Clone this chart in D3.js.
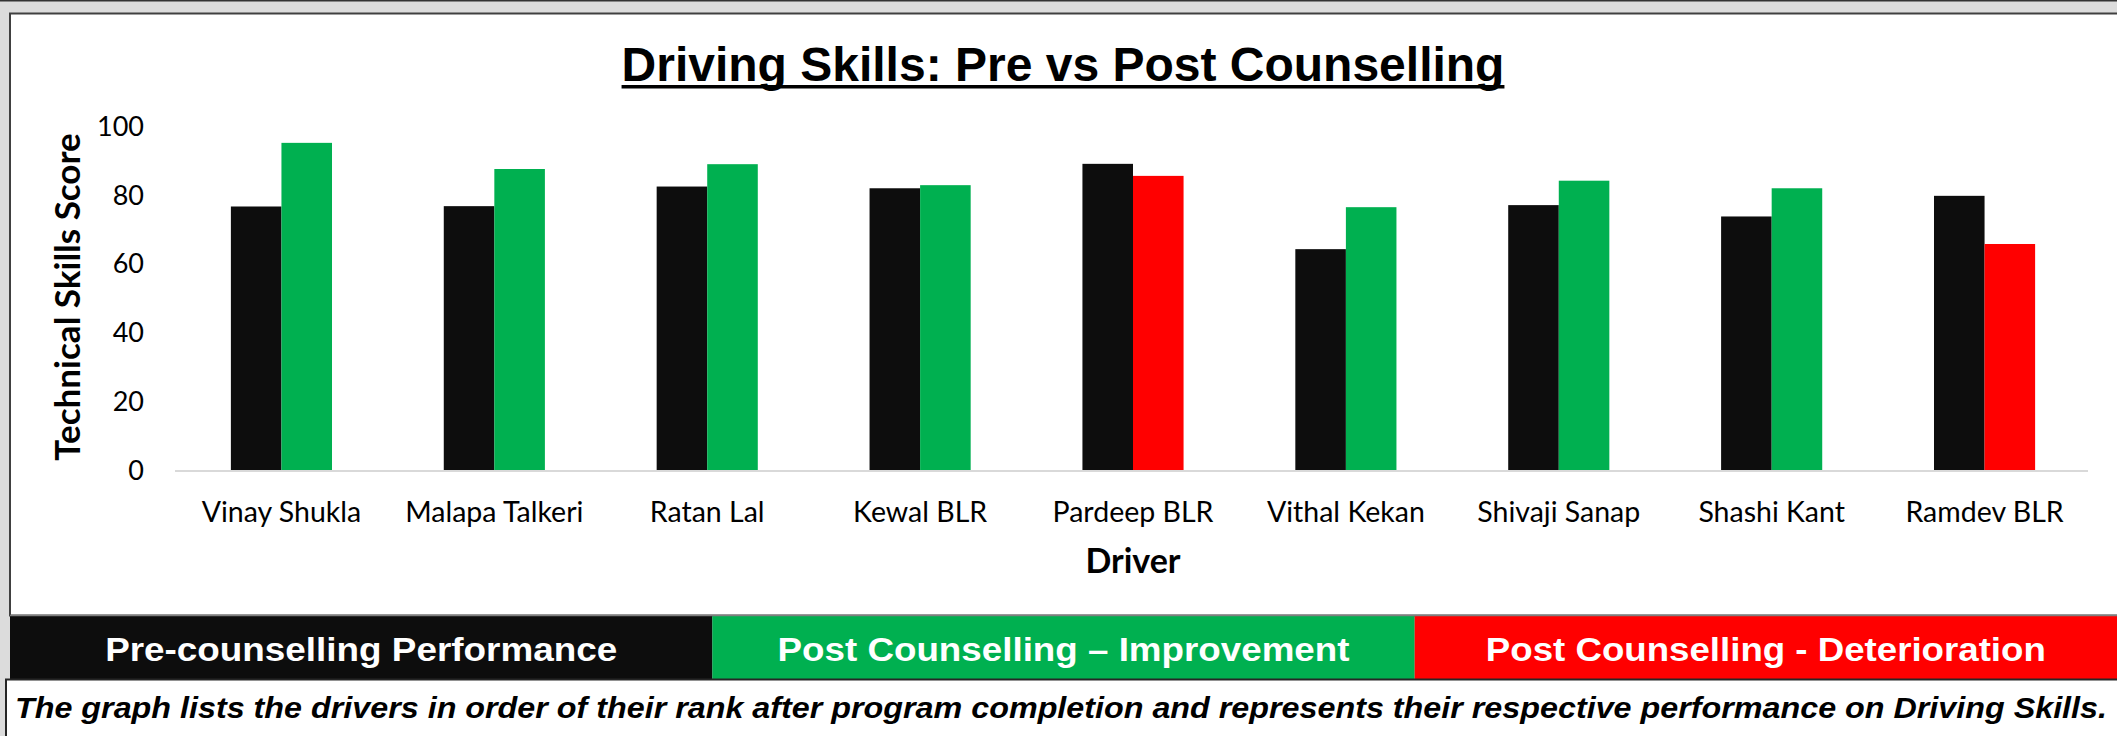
<!DOCTYPE html>
<html>
<head>
<meta charset="utf-8">
<script src="https://cdn.jsdelivr.net/npm/d3@7"></script>
<style>
  body { margin: 0; background: #dcdcdc; }
  svg { display: block; }
</style>
</head>
<body>
<svg width="2117" height="736"></svg>
<script>
const drivers = ["Vinay Shukla", "Malapa Talkeri", "Ratan Lal", "Kewal BLR", "Pardeep BLR",
                 "Vithal Kekan", "Shivaji Sanap", "Shashi Kant", "Ramdev BLR"];
const preScores = [76.6, 76.7, 82.4, 81.9, 89.0, 64.2, 77.0, 73.7, 79.7];
const postScores = [95.1, 87.5, 88.9, 82.8, 85.5, 76.4, 84.1, 81.9, 65.7];
const yTicks = [0, 20, 40, 60, 80, 100];
const legendLabels = ["Pre-counselling Performance", "Post Counselling \u2013 Improvement", "Post Counselling - Deterioration"];

const BLACK = "#0d0d0d", GREEN = "#00b050", RED = "#ff0000";
const legendColors = [BLACK, GREEN, RED];

const chart = d3.select("svg");
const CHART_W = parseInt(chart.attr("width"));
const CHART_H = parseInt(chart.attr("height"));

const ARIAL = "'Liberation Sans', Arial, sans-serif";
const CALIBRI = "Lato, 'Open Sans', sans-serif";

// background frame pieces
chart.append("rect").attr("x", 0).attr("y", 0).attr("width", CHART_W).attr("height", CHART_H).attr("fill", "#dcdcdc");
chart.append("rect").attr("x", 0).attr("y", 0).attr("width", CHART_W).attr("height", 1.5).attr("fill", "#333");

// chart panel
chart.append("rect")
     .attr("x", 10).attr("y", 13.5)
     .attr("width", CHART_W).attr("height", 602)
     .attr("fill", "white")
     .attr("stroke", "#404040").attr("stroke-width", 2);

// plot
const xOuter = d3.scaleBand()
                 .domain(drivers)
                 .range([175, 2091])
                 .paddingInner(0.525)
                 .paddingOuter(0.2625);

const xInner = d3.scaleBand()
                 .domain(["pre", "post"])
                 .range([0, xOuter.bandwidth()]);

const yScale = d3.scaleLinear()
                 .domain([0, 100])
                 .range([470, 126]);

const rows = drivers.map((d, i) => ({ driver: d, pre: preScores[i], post: postScores[i] }));

// baseline
chart.append("line")
     .attr("x1", xOuter.range()[0]).attr("x2", xOuter.range()[1] - 3)
     .attr("y1", yScale(0) + 1).attr("y2", yScale(0) + 1)
     .attr("stroke", "#d9d9d9").attr("stroke-width", 2);

const groups = chart.selectAll("g.driver")
                    .data(rows)
                    .enter()
                    .append("g")
                    .attr("class", "driver")
                    .attr("transform", (d) => `translate(${xOuter(d.driver)},0)`);

groups.append("rect")
      .attr("x", xInner("pre"))
      .attr("y", (d) => yScale(d.pre))
      .attr("width", xInner.bandwidth())
      .attr("height", (d) => yScale(0) - yScale(d.pre))
      .attr("fill", BLACK);

groups.append("rect")
      .attr("x", xInner("post"))
      .attr("y", (d) => yScale(d.post))
      .attr("width", xInner.bandwidth())
      .attr("height", (d) => yScale(0) - yScale(d.post))
      .attr("fill", (d) => d.post >= d.pre ? GREEN : RED);

// y ticks
chart.selectAll("text.ytick")
     .data(yTicks)
     .enter()
     .append("text")
     .attr("class", "ytick")
     .attr("x", 144)
     .attr("y", (d) => yScale(d))
     .attr("dy", "0.36em")
     .attr("text-anchor", "end")
     .style("font-family", CALIBRI)
     .style("font-size", "27px")
     .attr("fill", "#000")
     .text((d) => d);

// x labels
chart.selectAll("text.xlab")
     .data(drivers)
     .enter()
     .append("text")
     .attr("class", "xlab")
     .attr("x", (d) => xOuter(d) + xOuter.bandwidth() / 2)
     .attr("y", 522)
     .attr("text-anchor", "middle")
     .style("font-family", CALIBRI)
     .style("font-size", "28.5px")
     .attr("fill", "#000")
     .text((d) => d);

// axis titles
chart.append("text")
     .attr("x", (xOuter.range()[0] + xOuter.range()[1]) / 2)
     .attr("y", 573)
     .attr("text-anchor", "middle")
     .style("font-family", CALIBRI)
     .style("font-size", "34px")
     .style("font-weight", "bold")
     .text("Driver");

chart.append("text")
     .attr("transform", "translate(80,297) rotate(-90)")
     .attr("text-anchor", "middle")
     .style("font-family", CALIBRI)
     .style("font-size", "35px")
     .style("font-weight", "bold")
     .text("Technical Skills Score");

// title with underline
const title = chart.append("text")
                   .attr("x", 1063)
                   .attr("y", 81)
                   .attr("text-anchor", "middle")
                   .style("font-family", ARIAL)
                   .style("font-size", "48px")
                   .style("font-weight", "bold")
                   .text("Driving Skills: Pre vs Post Counselling");
const tb = title.node().getBBox();
chart.append("rect")
     .attr("x", tb.x).attr("y", 85)
     .attr("width", tb.width).attr("height", 3.5)
     .attr("fill", "#000");

// legend strip
const legendX = d3.scaleBand()
                  .domain(legendLabels)
                  .range([10, CHART_W]);

const legend = chart.selectAll("g.legend")
                    .data(legendLabels)
                    .enter()
                    .append("g")
                    .attr("class", "legend");

legend.append("rect")
      .attr("x", (d) => legendX(d))
      .attr("y", 616)
      .attr("width", legendX.bandwidth())
      .attr("height", 63)
      .attr("fill", (d, i) => legendColors[i]);

const legendWidths = [512, 572, 560];
legend.append("text")
      .attr("x", (d) => legendX(d) + legendX.bandwidth() / 2)
      .attr("y", 661)
      .attr("text-anchor", "middle")
      .attr("textLength", (d, i) => legendWidths[i])
      .attr("lengthAdjust", "spacingAndGlyphs")
      .style("font-family", ARIAL)
      .style("font-size", "34px")
      .style("font-weight", "bold")
      .attr("fill", "white")
      .text((d) => d);

chart.append("line")
     .attr("x1", 10).attr("x2", CHART_W)
     .attr("y1", 615.5).attr("y2", 615.5)
     .attr("stroke", "#7f7f7f").attr("stroke-width", 1.5);

// caption box
chart.append("rect")
     .attr("x", 6).attr("y", 679.5)
     .attr("width", CHART_W).attr("height", 60)
     .attr("fill", "white")
     .attr("stroke", "#262626").attr("stroke-width", 2);

chart.append("text")
     .attr("x", 1061)
     .attr("y", 718)
     .attr("text-anchor", "middle")
     .attr("textLength", 2092)
     .attr("lengthAdjust", "spacingAndGlyphs")
     .style("font-family", ARIAL)
     .style("font-size", "30px")
     .style("font-weight", "bold")
     .style("font-style", "italic")
     .text("The graph lists the drivers in order of their rank after program completion and represents their respective performance on Driving Skills.");
</script>
</body>
</html>
